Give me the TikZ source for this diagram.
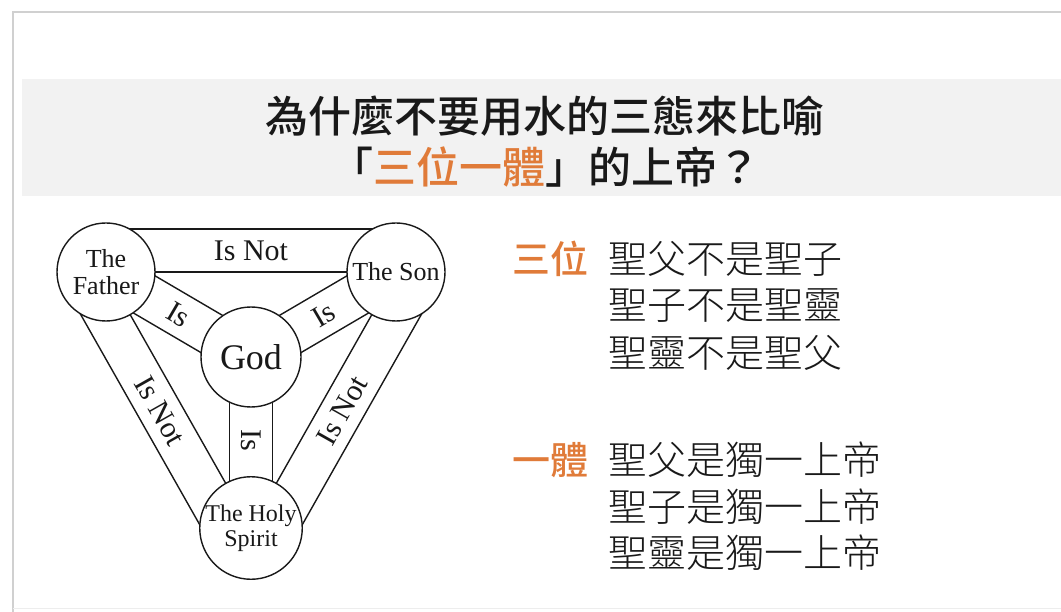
\documentclass[tikz,border=0pt]{standalone}
\usepackage{fontspec}
\setmainfont{Liberation Serif}
\newfontfamily\cjkmed{Noto Sans CJK TC Medium}
\newfontfamily\cjklight{Noto Sans CJK TC Light}
\usetikzlibrary{calc}
\definecolor{accent}{RGB}{224,123,57}
\definecolor{bandgray}{RGB}{242,242,242}
\definecolor{framegray}{RGB}{208,208,208}
\definecolor{ink}{RGB}{25,25,25}
\begin{document}
\begin{tikzpicture}[x=1pt,y=1pt,
  person/.style={circle,draw=ink,line width=1.4pt,fill=white,minimum size=98pt,inner sep=0pt,align=center,text=ink,font=\fontsize{26}{28}\selectfont},
  bandline/.style={draw=ink,line width=1.4pt},
  lbl/.style={inner sep=0pt,text=ink,font=\fontsize{30}{30}\selectfont},
  titletext/.style={inner sep=0pt,text=ink,font=\cjkmed\fontsize{43}{46}\selectfont},
  headtext/.style={inner sep=0pt,anchor=west,text=accent,font=\cjkmed\fontsize{38}{40}\selectfont},
  bodytext/.style={inner sep=0pt,anchor=west,text=ink,font=\cjklight\fontsize{39}{40}\selectfont}]
\useasboundingbox (0,0) rectangle (1061,-612);
\fill[white] (0,0) rectangle (1061,-612);
\draw[framegray,line width=1.2pt] (13,-612) -- (13,-12) -- (1061,-12);
\draw[black!7,line width=0.8pt] (13,-608) -- (1061,-608);
\fill[bandgray] (22,-79) rectangle (1061,-196);

% title
\node[titletext] (t1) at (545,-116) {為什麼不要用水的三態來比喻};
\node[titletext] (t2) at (545,-167) {「\textcolor{accent}{三位一體}」的上帝？};

% diagram centres
\coordinate (f) at (106,-272);
\coordinate (s) at (396,-272);
\coordinate (g) at (251,-357);
\coordinate (h) at (251,-528);

% outer bands
\draw[bandline] (f) -- (s);
\draw[bandline] ($(f)!43pt!90:(s)$) -- ($(s)!43pt!-90:(f)$);
\draw[bandline] (f) -- (h);
\draw[bandline] ($(f)!43pt!-90:(h)$) -- ($(h)!43pt!90:(f)$);
\draw[bandline] (s) -- (h);
\draw[bandline] ($(s)!43pt!90:(h)$) -- ($(h)!43pt!-90:(s)$);
% inner bands
\draw[bandline] ($(f)!21.5pt!90:(g)$) -- ($(g)!21.5pt!-90:(f)$);
\draw[bandline] ($(f)!21.5pt!-90:(g)$) -- ($(g)!21.5pt!90:(f)$);
\draw[bandline] ($(s)!21.5pt!90:(g)$) -- ($(g)!21.5pt!-90:(s)$);
\draw[bandline] ($(s)!21.5pt!-90:(g)$) -- ($(g)!21.5pt!90:(s)$);
\draw[bandline] ($(h)!21.5pt!90:(g)$) -- ($(g)!21.5pt!-90:(h)$);
\draw[bandline] ($(h)!21.5pt!-90:(g)$) -- ($(g)!21.5pt!90:(h)$);

% circles
\node[person] (F) at (f) {The\\[-1pt]Father};
\node[person] (S) at (s) {The Son};
\node[person,minimum size=100pt,font=\fontsize{36}{38}\selectfont] (G) at (g) {God};
\node[person,font=\fontsize{24}{25}\selectfont] (H) at (h) {The Holy\\Spirit};

% band labels
\coordinate (mfs) at ($(f)!0.5!(s)$);
\coordinate (mfh) at ($(f)!0.5!(h)$);
\coordinate (msh) at ($(s)!0.5!(h)$);
\node[lbl] (l1) at ($(mfs)!21.5pt!90:(s)$) {Is Not};
\node[lbl,rotate=-60.5] (l2) at ($(mfh)!21.5pt!-90:(h)$) {Is Not};
\node[lbl,rotate=60.5] (l3) at ($(msh)!21.5pt!90:(h)$) {Is Not};
\node[lbl] (l4) at ($(f)!0.5!(g)$) [rotate=-30.4] {Is};
\node[lbl] (l5) at ($(s)!0.5!(g)$) [rotate=30.4] {Is};
\node[lbl] (l6) at ($(g)!0.49!(h)$) [rotate=-90] {Is};

% right column
\node[headtext] (h1) at (512,-259) {三位};
\node[bodytext] (b1) at (608,-259) {聖父不是聖子};
\node[bodytext] (b2) at (608,-306) {聖子不是聖靈};
\node[bodytext] (b3) at (608,-353) {聖靈不是聖父};
\node[headtext] (h2) at (512,-460) {一體};
\node[bodytext] (b4) at (608,-460) {聖父是獨一上帝};
\node[bodytext] (b5) at (608,-507) {聖子是獨一上帝};
\node[bodytext] (b6) at (608,-553) {聖靈是獨一上帝};
\end{tikzpicture}
\end{document}
